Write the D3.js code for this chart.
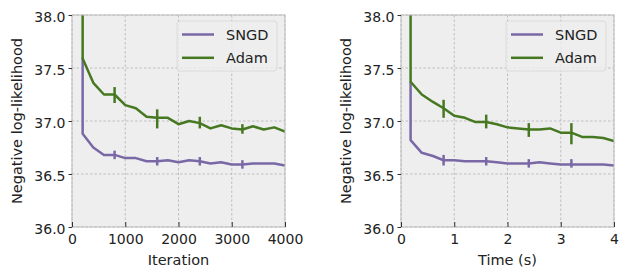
<html><head>
<meta charset="utf-8">
<style>
  body { margin: 0; background: #fff; }
  text { font-family: "DejaVu Sans", sans-serif; fill: #222; }
  .tick text { font-size: 14px; fill: #222; }
</style>
<script src="https://d3js.org/d3.v7.min.js"></script>
</head>
<body>
<svg id="chart" width="623" height="272"></svg>
<script>
// left panel: iterations (first point repeated -> vertical drop at start)
const iterX = [200, 200, 400, 600, 800, 1000, 1200, 1400, 1600, 1800, 2000, 2200, 2400, 2600, 2800, 3000, 3200, 3400, 3600, 3800, 4000];
const iterSNGD = [37.6, 36.88, 36.75, 36.68, 36.68, 36.65, 36.65, 36.62, 36.62, 36.63, 36.61, 36.63, 36.62, 36.60, 36.61, 36.59, 36.59, 36.60, 36.60, 36.60, 36.58];
const iterAdam = [39.0, 37.59, 37.36, 37.25, 37.25, 37.15, 37.12, 37.04, 37.03, 37.03, 36.97, 37.00, 36.98, 36.93, 36.96, 36.93, 36.92, 36.95, 36.92, 36.94, 36.90];
// error bars [x, low, high]
const iterErrSNGD = [[800, 36.64, 36.72], [1600, 36.58, 36.66], [2400, 36.58, 36.66], [3200, 36.55, 36.63]];
const iterErrAdam = [[800, 37.17, 37.32], [1600, 36.93, 37.11], [2400, 36.93, 37.04], [3200, 36.88, 36.97]];

// right panel: time in seconds
const timeX = [0.18, 0.18, 0.39, 0.6, 0.8, 1.0, 1.2, 1.4, 1.6, 1.8, 2.0, 2.2, 2.4, 2.6, 2.8, 3.0, 3.2, 3.4, 3.6, 3.8, 4.0];
const timeSNGD = [37.37, 36.82, 36.70, 36.67, 36.63, 36.63, 36.62, 36.62, 36.62, 36.61, 36.60, 36.60, 36.60, 36.61, 36.60, 36.59, 36.59, 36.59, 36.59, 36.59, 36.58];
const timeAdam = [39.0, 37.37, 37.25, 37.18, 37.12, 37.05, 37.03, 36.99, 36.99, 36.97, 36.94, 36.93, 36.92, 36.92, 36.93, 36.89, 36.89, 36.85, 36.85, 36.84, 36.81];
const timeErrSNGD = [[0.8, 36.58, 36.68], [1.6, 36.58, 36.66], [2.4, 36.56, 36.64], [3.2, 36.56, 36.64]];
const timeErrAdam = [[0.8, 37.03, 37.20], [1.6, 36.93, 37.06], [2.4, 36.85, 36.98], [3.2, 36.78, 36.98]];

const yTicks = [36.0, 36.5, 37.0, 37.5, 38.0];
const iterTicks = [0, 1000, 2000, 3000, 4000];
const timeTicks = [0, 1, 2, 3, 4];

const colors = { SNGD: "#7A68A6", Adam: "#467821" };
const svg = d3.select("#chart");

function panel(opts) {
  const { left, right, top, bottom, xMax, xTicks, xLabel, xs, sngd, adam, errS, errA, id } = opts;
  const x = d3.scaleLinear().domain([0, xMax]).range([left, right]);
  const y = d3.scaleLinear().domain([36, 38]).range([bottom, top]);
  const g = svg.append("g");

  g.append("rect").attr("x", left).attr("y", top)
    .attr("width", right - left).attr("height", bottom - top).attr("fill", "#eeeeee");

  g.append("clipPath").attr("id", id).append("rect")
    .attr("x", left).attr("y", top).attr("width", right - left).attr("height", bottom - top);

  // grid
  g.selectAll(".gx").data(xTicks).join("line")
    .attr("x1", d => x(d)).attr("x2", d => x(d)).attr("y1", top).attr("y2", bottom)
    .attr("stroke", "#b2b2b2").attr("stroke-width", 0.8).attr("stroke-dasharray", "2.5,2");
  g.selectAll(".gy").data(yTicks).join("line")
    .attr("x1", left).attr("x2", right).attr("y1", d => y(d)).attr("y2", d => y(d))
    .attr("stroke", "#b2b2b2").attr("stroke-width", 0.8).attr("stroke-dasharray", "2.5,2");

  const line = d3.line().x((d, i) => x(xs[i])).y(d => y(d));
  const plot = g.append("g").attr("clip-path", `url(#${id})`);
  [[sngd, errS, colors.SNGD], [adam, errA, colors.Adam]].forEach(([vals, errs, c]) => {
    plot.append("path").datum(vals).attr("d", line)
      .attr("fill", "none").attr("stroke", c).attr("stroke-width", 2.5)
      .attr("stroke-linejoin", "round");
    plot.selectAll(null).data(errs).join("line")
      .attr("x1", d => x(d[0])).attr("x2", d => x(d[0]))
      .attr("y1", d => y(d[1])).attr("y2", d => y(d[2]))
      .attr("stroke", c).attr("stroke-width", 2.5);
  });

  // frame
  g.append("rect").attr("x", left).attr("y", top)
    .attr("width", right - left).attr("height", bottom - top)
    .attr("fill", "none").attr("stroke", "#bcbcbc").attr("stroke-width", 1);

  // axes
  const xa = g.append("g").attr("transform", `translate(0,${bottom})`)
    .call(d3.axisBottom(x).tickValues(xTicks).tickSizeInner(-5).tickSizeOuter(0).tickFormat(d3.format("d")));
  xa.select(".domain").remove();
  xa.selectAll(".tick line").attr("stroke", "#333");
  xa.selectAll(".tick text").attr("y", 17).attr("dy", 0);

  const ya = g.append("g").attr("transform", `translate(${left},0)`)
    .call(d3.axisLeft(y).tickValues(yTicks).tickSizeInner(3.5).tickSizeOuter(0).tickPadding(3).tickFormat(d3.format(".1f")));
  ya.select(".domain").remove();
  ya.selectAll(".tick line").attr("stroke", "#333");
  ya.selectAll(".tick text").attr("dy", "0.45em");

  g.append("text").attr("x", (left + right) / 2).attr("y", 265)
    .attr("text-anchor", "middle").attr("font-size", 14.5).text(xLabel);
  g.append("text").attr("transform", `translate(${left - 50},${(top + bottom) / 2}) rotate(-90)`)
    .attr("text-anchor", "middle").attr("font-size", 14.5).text("Negative log-likelihood");

  // legend
  const lx = right - 108, ly = top + 6;
  g.append("rect").attr("x", lx).attr("y", ly).attr("width", 100).attr("height", 50).attr("rx", 3)
    .attr("fill", "#eeeeee").attr("fill-opacity", 0.8).attr("stroke", "#d6d6d6").attr("stroke-width", 0.8);
  [["SNGD", colors.SNGD], ["Adam", colors.Adam]].forEach(([name, c], i) => {
    const yy = ly + 13.5 + i * 23.3;
    g.append("line").attr("x1", lx + 5).attr("x2", lx + 37).attr("y1", yy).attr("y2", yy)
      .attr("stroke", c).attr("stroke-width", 2.5);
    g.append("text").attr("x", lx + 49).attr("y", yy).attr("dy", "0.36em")
      .attr("font-size", 14.5).text(name);
  });
}

panel({ left: 72, right: 285, top: 15, bottom: 227, xMax: 4000, xTicks: iterTicks, xLabel: "Iteration",
  xs: iterX, sngd: iterSNGD, adam: iterAdam, errS: iterErrSNGD, errA: iterErrAdam, id: "clipL" });
panel({ left: 401, right: 614, top: 15, bottom: 227, xMax: 4, xTicks: timeTicks, xLabel: "Time (s)",
  xs: timeX, sngd: timeSNGD, adam: timeAdam, errS: timeErrSNGD, errA: timeErrAdam, id: "clipR" });
</script>
</body></html>
